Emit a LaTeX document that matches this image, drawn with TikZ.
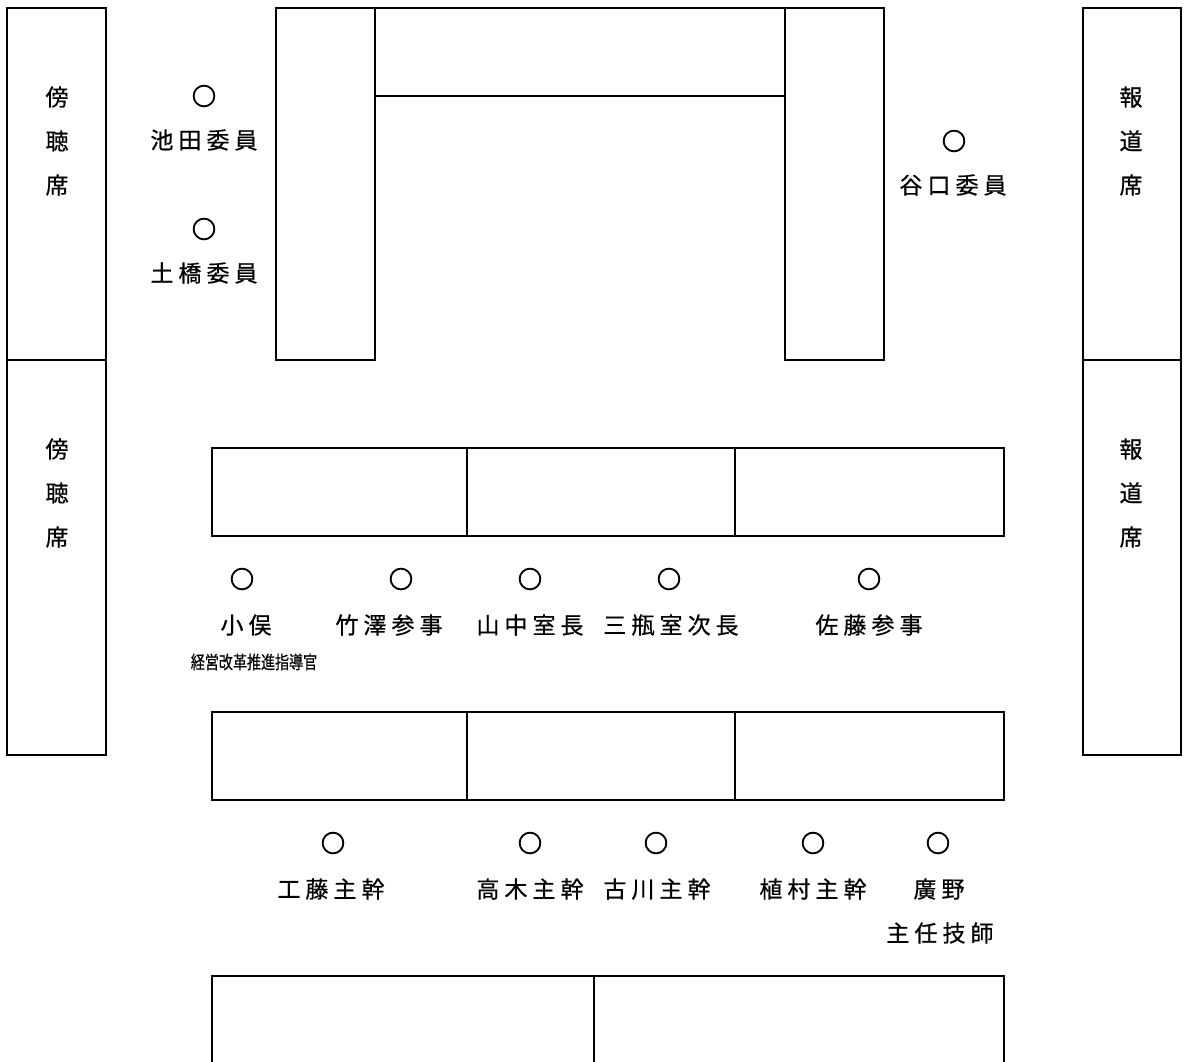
\documentclass[tikz,border=0pt]{standalone}
\usepackage{fontspec}
\usepackage{graphicx}
\newfontfamily\jpfont[LetterSpace=22,FakeBold=0.6]{Noto Sans CJK JP}
\newfontfamily\jpplain[FakeBold=0.6]{Noto Sans CJK JP}
\newfontfamily\jpmark[FakeBold=4]{Noto Sans CJK JP}
\tikzset{
  seatmark/.style={inner sep=0pt,font=\jpmark\fontsize{12}{12}\selectfont},
  seatname/.style={inner sep=0pt,font=\jpfont\fontsize{11.5}{12}\selectfont},
  vtext/.style={inner sep=0pt,align=center,font=\jpplain\fontsize{11.5}{22}\selectfont},
  smallname/.style={inner sep=0pt,font=\jpplain\fontsize{9}{10}\selectfont}
}
\begin{document}
\begin{tikzpicture}[x=0.5pt,y=-0.5pt,line width=1pt]
	\useasboundingbox (0,0) rectangle (1184,1061);
	\clip (0,0) rectangle (1184,1061);
	% galleries
	\draw (7,8) rectangle (106,360);
	\draw (7,360) rectangle (106,755);
	\draw (1083,8) rectangle (1181,360);
	\draw (1083,360) rectangle (1181,755);
	\node[vtext] (gallerya) at (57,141) {傍\\聴\\席};
	\node[vtext] (galleryb) at (57,493) {傍\\聴\\席};
	\node[vtext] (pressa) at (1131,141) {報\\道\\席};
	\node[vtext] (pressb) at (1131,493) {報\\道\\席};
	% committee tables
	\draw (276,8) rectangle (375,360);
	\draw (375,8) rectangle (785,96);
	\draw (785,8) rectangle (884,360);
	% staff tables
	\draw (212,448) rectangle (1004,536);
	\draw (467,448) -- (467,536);
	\draw (735,448) -- (735,536);
	\draw (212,712) rectangle (1004,800);
	\draw (467,712) -- (467,800);
	\draw (735,712) -- (735,800);
	\draw (212,976) rectangle (1004,1080);
	\draw (594,976) -- (594,1080);
	% committee members
	\node[seatmark] (ikeda) at (204,96) {○};
	\node[seatname] (ikedaname) at (204,140) {池田委員};
	\node[seatmark] (dobashi) at (204,229) {○};
	\node[seatname] (dobashiname) at (204,273) {土橋委員};
	\node[seatmark] (taniguchi) at (954,141) {○};
	\node[seatname] (taniguchiname) at (953,185) {谷口委員};
	% first row
	\node[seatmark] (omata) at (242,579) {○};
	\node[seatname] (omataname) at (246,625) {小俣};
	\node[smallname] (omatapost) at (254,662) {\scalebox{0.78}[1]{経営改革推進指導官}};
	\node[seatmark] (takezawa) at (401,579) {○};
	\node[seatname] (takezawaname) at (389,625) {竹澤参事};
	\node[seatmark] (yamanaka) at (530,579) {○};
	\node[seatname] (yamanakaname) at (530,625) {山中室長};
	\node[seatmark] (sanpei) at (669,579) {○};
	\node[seatname] (sanpeiname) at (671,625) {三瓶室次長};
	\node[seatmark] (sato) at (869,579) {○};
	\node[seatname] (satoname) at (869,625) {佐藤参事};
	% second row
	\node[seatmark] (kudo) at (333,843) {○};
	\node[seatname] (kudoname) at (331,889) {工藤主幹};
	\node[seatmark] (takagi) at (530,843) {○};
	\node[seatname] (takaginame) at (530,889) {高木主幹};
	\node[seatmark] (furukawa) at (656,843) {○};
	\node[seatname] (furukawaname) at (657,889) {古川主幹};
	\node[seatmark] (uemura) at (813,843) {○};
	\node[seatname] (uemuraname) at (813,889) {植村主幹};
	\node[seatmark] (hirono) at (938,843) {○};
	\node[seatname] (hirononame) at (939,889) {廣野};
	\node[seatname] (hironopost) at (940,933) {主任技師};
\end{tikzpicture}
\end{document}
